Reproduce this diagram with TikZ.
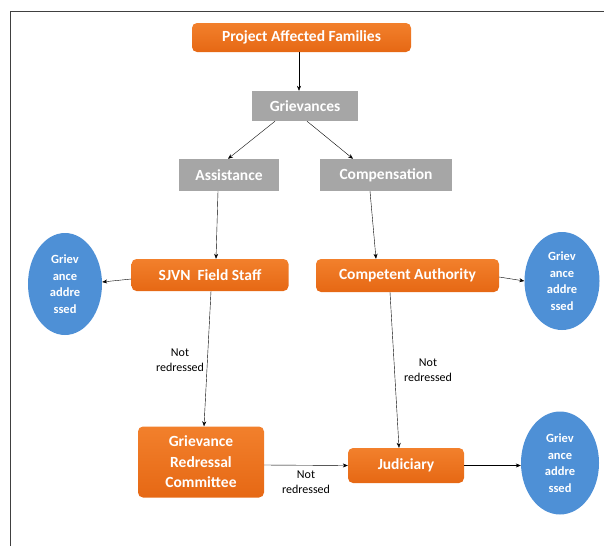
\documentclass[tikz,border=0pt]{standalone}
\usepackage{fontspec}
\setmainfont{Carlito}
\usetikzlibrary{arrows.meta,shapes.geometric}
\definecolor{boxorange}{RGB}{242,128,44}
\definecolor{boxorangedark}{RGB}{230,104,20}
\definecolor{boxgray}{RGB}{166,166,166}
\definecolor{ovalblue}{RGB}{78,144,214}
\begin{document}
\begin{tikzpicture}[x=1pt,y=-1pt,
    obox/.style={rounded corners=5pt, top color=boxorange, bottom color=boxorangedark,
      draw=none, text=white, font=\fontsize{15.5}{20.5}\selectfont\bfseries,
      inner sep=0pt, align=center},
    gbox/.style={fill=boxgray, text=white, font=\fontsize{15.5}{18}\selectfont\bfseries,
      inner sep=0pt},
    oval/.style={ellipse, fill=ovalblue, text=white, inner sep=0pt, align=center,
      font=\fontsize{12.5}{16.5}\selectfont\bfseries},
    note/.style={align=center, font=\fontsize{12}{15}\selectfont},
    flow/.style={-{Stealth[length=5pt,width=4pt]}, black, thin}]
  \useasboundingbox (0,0) rectangle (604,546);
  % frame
  \draw[line width=1pt, black!75] (10,546) -- (10,11) -- (604,11);
  % boxes
  \node[obox, minimum width=219pt, minimum height=29pt] (paf) at (301.5,37.5) {Project Affected Families};
  \node[gbox, minimum width=106pt, minimum height=30pt] (griev) at (305,106) {Grievances};
  \node[gbox, minimum width=100pt, minimum height=32pt] (assist) at (229,175) {Assistance};
  \node[gbox, minimum width=132pt, minimum height=32pt] (comp) at (386,175) {Compensation};
  \node[obox, minimum width=157pt, minimum height=32pt] (sjvn) at (210,275) {SJVN\ \ Field Staff};
  \node[obox, minimum width=183pt, minimum height=33pt] (ca) at (407.5,275.5) {Competent Authority};
  \node[obox, minimum width=126pt, minimum height=71pt] (grc) at (201,462) {Grievance\\Redressal\\Committee};
  \node[obox, minimum width=116pt, minimum height=35pt] (jud) at (406,465.5) {Judiciary};
  % ovals
  \node[oval, minimum width=74pt, minimum height=102pt] (addrA) at (65,284) {Griev\\ance\\addre\\ssed};
  \node[oval, minimum width=75pt, minimum height=98pt] (addrB) at (562,281) {Griev\\ance\\addre\\ssed};
  \node[oval, minimum width=78pt, minimum height=103pt] (addrC) at (560,463) {Griev\\ance\\addre\\ssed};
  % labels
  \node[note] (nrA) at (180,360) {Not\\redressed};
  \node[note] (nrB) at (428,370) {Not\\redressed};
  \node[note] (nrC) at (306,482) {Not\\redressed};
  % connectors
  \draw[flow] ([xshift=-2.5pt]paf.south) -- ([xshift=-6pt]griev.north);
  \draw[flow] ([xshift=-30pt]griev.south) -- ([xshift=-1pt]assist.north);
  \draw[flow] ([xshift=2pt]griev.south) -- ([xshift=-33pt]comp.north);
  \draw[flow] ([xshift=-11pt]assist.south) -- ([xshift=6pt]sjvn.north);
  \draw[flow] ([xshift=-16pt]comp.south) -- ([xshift=-31.5pt]ca.north);
  \draw[flow] ([yshift=-4pt]sjvn.west) -- ([yshift=2pt]addrA.east);
  \draw[flow] ([yshift=-1.5pt]ca.east) -- (addrB.west);
  \draw[flow] ([xshift=1pt]sjvn.south) -- ([xshift=3pt]grc.north);
  \draw[flow] ([xshift=-17.5pt]ca.south) -- ([xshift=-7pt]jud.north);
  \draw[flow] ([yshift=-3pt]grc.east) -- (jud.west);
  \draw[flow] (jud.east) -- (jud.east -| addrC.west);
\end{tikzpicture}
\end{document}
